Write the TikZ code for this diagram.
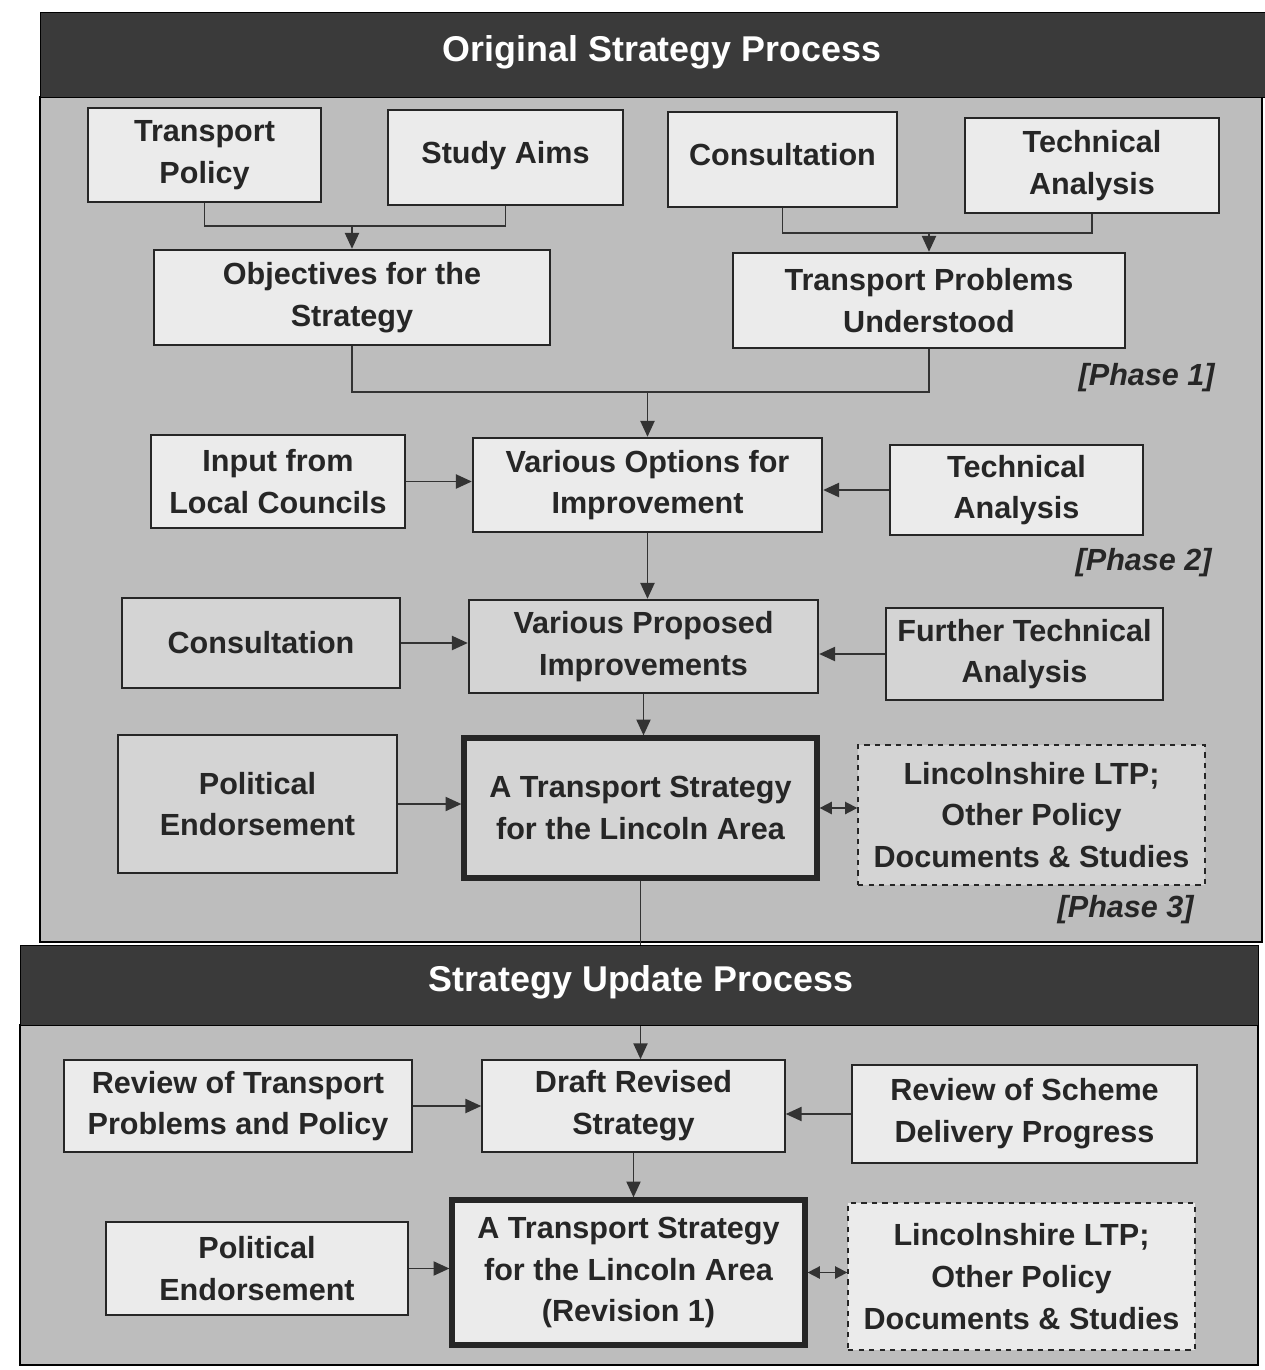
\documentclass[tikz,border=0pt]{standalone}
\usepackage{fontspec}
\setmainfont{Liberation Sans}
\usetikzlibrary{arrows.meta}
\definecolor{panelgray}{HTML}{BDBDBD}
\definecolor{bandgray}{HTML}{3A3A3A}
\definecolor{boxlight}{HTML}{EBEBEB}
\definecolor{boxmid}{HTML}{D4D4D4}
\begin{document}
\begin{tikzpicture}[x=0.02cm,y=-0.02cm,
box/.style={draw=black!85,line width=0.9pt,fill=boxlight,text=black!85,align=center,inner sep=0pt,font=\bfseries\fontsize{17.4}{23.8}\selectfont},
midbox/.style={box,fill=boxmid},
keybox/.style={box,line width=1.4pt},
finalbox/.style={box,line width=3pt},
docbox/.style={box,dashed,line width=0.8pt},
band/.style={fill=bandgray,draw=black},
panel/.style={fill=panelgray,draw=black,line width=1pt},
bandtitle/.style={text=white,font=\bfseries\fontsize{20.4}{24}\selectfont},
phase/.style={anchor=east,inner sep=0pt,text=black!85,font=\bfseries\itshape\fontsize{17.4}{20}\selectfont},
link/.style={draw=black!80,line width=1pt},
arr/.style={link,-{Triangle[length=9pt,width=8pt]}},
dblarr/.style={link,{Triangle[length=7pt,width=7pt]}-{Triangle[length=7pt,width=7pt]}}]
\useasboundingbox (0,0) rectangle (1265,1370);
\draw[panel] (40,97) rectangle (1262,942);
\draw[band] (40,12) rectangle (1265,97);
\draw[panel] (20,1025) rectangle (1258,1365);
\node[bandtitle] (title1) at (662,52) {Original Strategy Process};
\node[box,minimum width=4.66cm,minimum height=1.88cm] (tp) at (204.5,155) {Transport\\Policy};
\node[box,minimum width=4.70cm,minimum height=1.90cm] (sa) at (505.5,157.5) {Study Aims\\[-18pt]\mbox{}};
\node[box,minimum width=4.58cm,minimum height=1.90cm] (con1) at (782.5,159.5) {Consultation\\[-18pt]\mbox{}};
\node[box,minimum width=5.08cm,minimum height=1.90cm] (ta1) at (1092,165.5) {Technical\\Analysis};
\node[keybox,minimum width=7.92cm,minimum height=1.90cm] (obj) at (352,297.5) {Objectives for the\\Strategy};
\node[keybox,minimum width=7.84cm,minimum height=1.90cm] (tpu) at (929,300.5) {Transport Problems\\Understood};
\node[phase] (ph1) at (1215,378) {[Phase 1]};
\node[box,minimum width=5.08cm,minimum height=1.86cm] (ilc) at (278,481.5) {Input from\\Local Councils};
\node[keybox,minimum width=6.98cm,minimum height=1.88cm] (vo) at (647.5,485) {Various Options for\\Improvement};
\node[box,minimum width=5.06cm,minimum height=1.80cm] (ta2) at (1016.5,490) {Technical\\Analysis};
\node[phase] (ph2) at (1212,563) {[Phase 2]};
\node[midbox,minimum width=5.56cm,minimum height=1.80cm] (con2) at (261,643) {Consultation};
\node[midbox,line width=1.4pt,minimum width=6.98cm,minimum height=1.86cm] (vpi) at (643.5,646.5) {Various Proposed\\Improvements};
\node[midbox,minimum width=5.54cm,minimum height=1.84cm] (fta) at (1024.5,654) {Further Technical\\Analysis};
\node[midbox,minimum width=5.58cm,minimum height=2.76cm] (pe1) at (257.5,804) {Political\\Endorsement};
\node[finalbox,fill=boxmid,minimum width=7.06cm,minimum height=2.80cm] (ats1) at (640.5,808) {A Transport Strategy\\for the Lincoln Area};
\node[docbox,fill=boxmid,minimum width=6.94cm,minimum height=2.80cm] (ltp1) at (1031.5,815) {Lincolnshire LTP;\\Other Policy\\Documents \& Studies};
\node[phase] (ph3) at (1194,910) {[Phase 3]};
\node[box,minimum width=6.96cm,minimum height=1.84cm] (rtp) at (238,1106) {Review of Transport\\Problems and Policy};
\node[box,minimum width=6.06cm,minimum height=1.84cm] (drs) at (633.5,1106) {Draft Revised\\Strategy};
\node[box,minimum width=6.90cm,minimum height=1.96cm] (rsd) at (1024.5,1114) {Review of Scheme\\Delivery Progress};
\node[box,minimum width=6.04cm,minimum height=1.86cm] (pe2) at (257,1268.5) {Political\\Endorsement};
\node[finalbox,minimum width=7.06cm,minimum height=2.90cm] (ats2) at (628.5,1272.5) {A Transport Strategy\\for the Lincoln Area\\(Revision 1)};
\node[docbox,minimum width=6.94cm,minimum height=2.94cm] (ltp2) at (1021.5,1276.5) {Lincolnshire LTP;\\Other Policy\\Documents \& Studies};
\coordinate (j1) at (352,226);
\coordinate (j2) at (929,233);
\coordinate (j3) at (647.5,392);
\draw[link] (tp.south) |- (j1) -| (sa.south);
\draw[arr] (j1) -- (obj.north);
\draw[link] (con1.south) |- (j2) -| (ta1.south);
\draw[arr] (j2) -- (tpu.north);
\draw[link] (obj.south) |- (j3) -| (tpu.south);
\draw[arr] (j3) -- (vo.north);
\draw[arr] (ilc.east) -- (ilc.east -| vo.west);
\draw[arr] (ta2.west) -- (ta2.west -| vo.east);
\draw[arr] (vo.south) -- (vo.south |- vpi.north);
\draw[arr] (con2.east) -- (con2.east -| vpi.west);
\draw[arr] (fta.west) -- (fta.west -| vpi.east);
\draw[arr] (vpi.south) -- (vpi.south |- ats1.north);
\draw[arr] (pe1.east) -- (pe1.east -| ats1.west);
\draw[dblarr] (ats1.east) -- (ats1.east -| ltp1.west);
\draw[arr] (ats1.south) -- (ats1.south |- drs.north);
\draw[arr] (rtp.east) -- (rtp.east -| drs.west);
\draw[arr] (rsd.west) -- (rsd.west -| drs.east);
\draw[arr] (drs.south) -- (drs.south |- ats2.north);
\draw[arr] (pe2.east) -- (pe2.east -| ats2.west);
\draw[dblarr] (ats2.east) -- (ats2.east -| ltp2.west);
\draw[band] (20,945) rectangle (1258,1025);
\node[bandtitle] (title2) at (641,982) {Strategy Update Process};
\end{tikzpicture}
\end{document}
